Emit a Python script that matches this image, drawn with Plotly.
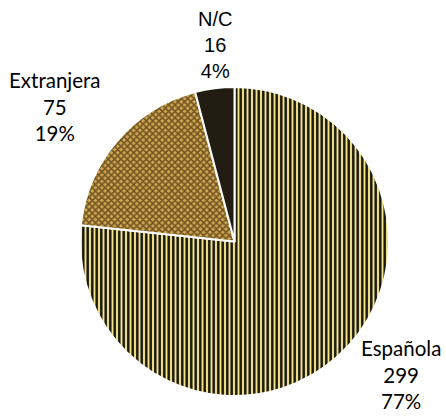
import plotly.graph_objects as go

labels = ["Española", "Extranjera", "N/C"]
values = [299, 75, 16]
colors = ["#f4e68e", "#cfa64e", "#221d12"]
pattern_shapes = ["|", "x", ""]
pattern_fg = ["#15120a", "#6e5222", "#221d12"]

W, H = 446, 417
x0, x1 = 78, 391
y0, y1 = 87, 396

# label anchor points (pixels), anchors and fonts - layout only
label_pos = {"Española": (443, 374, "right"), "Extranjera": (55, 107, "center"), "N/C": (215, 45, "center")}
label_font = {"Española": ("Lato, Open Sans, sans-serif", 20.5),
              "Extranjera": ("Lato, Open Sans, sans-serif", 20.5),
              "N/C": ("Liberation Sans, Arial, sans-serif", 20)}

total = sum(values)

fig = go.Figure(go.Pie(
    labels=labels,
    values=values,
    sort=False,
    direction="clockwise",
    rotation=0,
    marker=dict(
        colors=colors,
        line=dict(color="white", width=2),
        pattern=dict(shape=pattern_shapes, fgcolor=pattern_fg, bgcolor=colors,
                     size=4.5, solidity=0.55, fillmode="replace"),
    ),
    textinfo="none",
    domain=dict(x=[x0 / W, x1 / W], y=[1 - y1 / H, 1 - y0 / H]),
    showlegend=False,
    hoverinfo="label+value+percent",
))

for lab, val in zip(labels, values):
    px, py, xa = label_pos[lab]
    fam, size = label_font[lab]
    fig.add_annotation(
        x=px / W, y=1 - py / H, xref="paper", yref="paper",
        xanchor=xa, yanchor="middle", showarrow=False,
        text=f"{lab}<br>{val}<br>{round(100 * val / total)}%",
        font=dict(family=fam, size=size, color="#000000"),
        align="center",
    )

fig.update_layout(
    width=W, height=H,
    margin=dict(l=0, r=0, t=0, b=0),
    paper_bgcolor="white",
    plot_bgcolor="white",
)

fig.write_html("out.html",
               config={"displayModeBar": False},
               post_script="document.body.style.margin='0';document.body.style.overflow='hidden';")
